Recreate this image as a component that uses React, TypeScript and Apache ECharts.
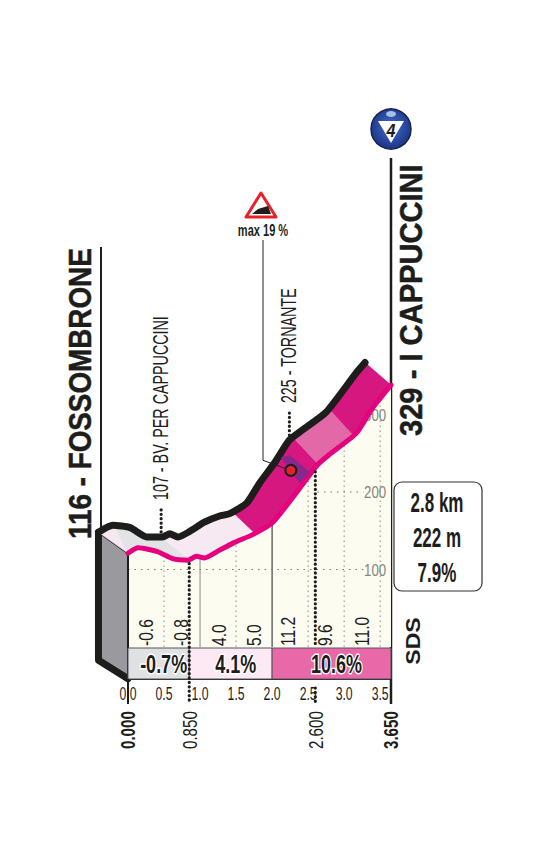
import React, { useEffect, useRef } from "react";
import * as echarts from "echarts";

const frontProfile: number[][] = [
  [0, 121], [0.14, 128], [0.41, 123], [0.62, 114], [0.83, 112], [0.95, 117], [1.06, 115],
  [1.27, 125], [1.48, 135], [1.73, 145], [2.0, 160], [2.28, 192], [2.63, 235], [2.79, 248],
  [3.17, 276], [3.39, 308], [3.65, 338],
];
const backProfile: number[][] = [
  [-0.41, 148], [-0.21, 157], [0.03, 154], [0.26, 142], [0.48, 142], [0.58, 146], [0.69, 142],
  [1.06, 161], [1.27, 169], [1.41, 172], [1.65, 186], [1.83, 212], [2.03, 237], [2.24, 267],
  [2.42, 280], [2.75, 303], [3.17, 354], [3.29, 367],
];
const ribbonParts: [number, number, number, number, string][] = [
  [0, 0, -0.41, -0.19, "#f5e8f0"],
  [0, 0.85, -0.19, 0.46, "#e1e3e5"],
  [0.85, 1.76, 0.46, 1.45, "#f7e9f2"],
  [1.76, 2.64, 1.45, 2.29, "#d6177f"],
  [2.64, 3.13, 2.29, 2.79, "#e268a8"],
  [3.13, 3.65, 2.79, 3.29, "#d6177f"],
];
const kmTicks = [0, 0.5, 1, 1.5, 2, 2.5, 3, 3.5];
const elevTicks = [100, 200, 300];
const gradeLabels: [number, string][] = [
  [0.25, "-0.6"], [0.74, "-0.8"], [1.27, "4.0"], [1.76, "5.0"], [2.23, "11.2"], [2.74, "9.6"], [3.25, "11.0"],
];
const tableBands: [number, number, string, string][] = [
  [0, 0.85, "-0.7%", "#dfe1e3"], [0.85, 2, "4.1%", "#fde9f4"], [2, 3.65, "10.6%", "#e868a8"],
];
const waypoints: [number, number, string][] = [
  [0.85, 0.46, "107 - BV. PER CAPPUCCINI"],
  [2.6, 2.24, "225 - TORNANTE"],
];
const kmLabels: [number, string][] = [[0, "0.000"], [0.85, "0.850"], [2.6, "2.600"], [3.65, "3.650"]];
const steepest: [number, number] = [2.26, 228];
const startName = "116 - FOSSOMBRONE";
const endName = "329 - I CAPPUCCINI";
const summary = ["2.8 km", "222 m", "7.9%"];

const FONT = '"Liberation Sans", sans-serif';
const INK = "#1d1d1b";

const at = (line: number[][], km: number) => {
  for (let i = 1; i < line.length; i++) {
    if (km <= line[i][0]) {
      const [x0, y0] = line[i - 1];
      const [x1, y1] = line[i];
      return y0 + ((y1 - y0) * (km - x0)) / (x1 - x0);
    }
  }
  return line[line.length - 1][1];
};
const slice = (line: number[][], a: number, b: number) =>
  a === b
    ? [[a, at(line, a)]]
    : [[a, at(line, a)], ...line.filter((p) => p[0] > a && p[0] < b), [b, at(line, b)]];

const txt = (text: string, x: number, y: number, size: number, scaleX: number, opts: any = {}) => ({
  type: "text", x, y, scaleX,
  rotation: opts.up ? Math.PI / 2 : 0,
  style: {
    text,
    fill: opts.fill || INK,
    font: `${opts.weight || ""} ${size}px ${FONT}`,
    align: opts.align || (opts.up ? "left" : "center"),
    verticalAlign: "middle",
    ...(opts.halo ? { stroke: "#fff", lineWidth: opts.halo } : {}),
    ...(opts.thick ? { stroke: opts.fill || INK, lineWidth: opts.thick } : {}),
  },
});

function option(): any {
  const px = 72.05;
  const perUnit = 0.775;
  const top = 647 - 700 * perUnit;
  const base = { type: "custom", xAxisIndex: 0, yAxisIndex: 0, clip: false, silent: true };
  const ribbon = {
    ...base, z: 4, data: ribbonParts.map((_, i) => i),
    renderItem: (p: any, api: any) => {
      const [a, b, c, d, color] = ribbonParts[api.value(0)];
      const f = slice(frontProfile, a, b);
      const bk = slice(backProfile, c, d).reverse();
      const points = [...f, ...bk].map((q) => api.coord(q));
      return { type: "polygon", shape: { points }, style: { fill: color, stroke: color, lineWidth: 0.5 } };
    },
  };
  const wall = {
    ...base, z: 3, data: [0],
    renderItem: (p: any, api: any) => {
      const c = (x: number, y: number) => api.coord([x, y]);
      const lb = -41, bb = -17;
      return {
        type: "group",
        children: [
          { type: "polygon", shape: { points: [c(-0.39, 148), c(0, 121), c(0, lb), c(-0.39, bb)] }, style: { fill: "#9a9a9e", stroke: "none" } },
          { type: "polyline", shape: { points: [c(-0.41, 148), c(-0.41, bb), c(0, lb)] }, style: { fill: "none", stroke: INK, lineWidth: 7, lineJoin: "round", lineCap: "round" } },
          { type: "polyline", shape: { points: [c(-0.41, 148), c(0, 121), c(0, lb)] }, style: { fill: "none", stroke: INK, lineWidth: 2 } },
        ],
      };
    },
  };
  const grid = {
    ...base, z: 2, data: [0],
    renderItem: (p: any, api: any) => {
      const c = (x: number, y: number) => api.coord([x, y]);
      const kids: any[] = [];
      kmTicks.filter((k) => k > 0).forEach((k) => {
        const solid = k === 1 || k === 2;
        const a = c(k, 0);
        const b = c(k, at(frontProfile, k));
        kids.push({
          type: "line",
          shape: { x1: a[0], y1: a[1], x2: b[0], y2: b[1] },
          style: { stroke: k === 2 ? "#444" : "#8a8a80", lineWidth: k === 2 ? 1.2 : 1, lineDash: solid ? undefined : [1.5, 3.5] },
        });
      });
      elevTicks.forEach((v) => {
        const start = frontProfile.find((q) => q[1] >= v);
        const x0 = v < 120 ? 0 : start ? start[0] : 0;
        const a = c(x0, v);
        const b = c(3.27, v);
        kids.push({
          type: "line",
          shape: { x1: a[0], y1: a[1], x2: b[0], y2: b[1] },
          style: { stroke: "#77776e", lineWidth: 1, lineDash: [1.5, 5] },
        });
        const l = c(3.43, v);
        kids.push(txt(String(v), l[0], l[1], 17, 0.78, { fill: "#85857e" }));
      });
      return { type: "group", children: kids };
    },
  };
  const marks = {
    ...base, z: 6, data: waypoints.map((_, i) => i),
    renderItem: (p: any, api: any) => {
      const [km, backKm, name] = waypoints[api.value(0)];
      const c = (x: number, y: number) => api.coord([x, y]);
      const dash = { stroke: INK, lineWidth: 3.2, lineDash: [0.1, 4.3], lineCap: "round", fill: "none" };
      const f = c(km, at(frontProfile, km));
      const b = c(backKm, at(backProfile, backKm));
      const runs = km > 2 ? [[f[1] + 4, 645], [688, 702]] : [[f[1] + 4, 702]];
      return {
        type: "group",
        children: [
          ...runs.map(([y1, y2]) => ({ type: "line", shape: { x1: f[0], y1, x2: f[0], y2 }, style: dash })),
          { type: "line", shape: { x1: b[0], y1: b[1] - 5, x2: b[0], y2: b[1] - 30 }, style: dash },
          txt(name, b[0] - 1, b[1] - 37, 22, 0.65, { up: true }),
        ],
      };
    },
  };
  const grades = {
    ...base, z: 6, data: gradeLabels.map((_, i) => i),
    renderItem: (p: any, api: any) => {
      const [km, t] = gradeLabels[api.value(0)];
      const pt = api.coord([km, 0]);
      return txt(t, pt[0], pt[1] - 1, 20, 0.78, { up: true });
    },
  };
  const dot = {
    ...base, z: 7, data: [steepest],
    renderItem: (p: any, api: any) => {
      const [cx, cy] = api.coord([api.value(0), api.value(1)]);
      return {
        type: "group",
        children: [
          { type: "polygon", shape: { points: [[cx - 10, cy - 13], [cx - 1, cy - 15], [cx + 19, cy + 2], [cx + 9, cy + 13]] }, style: { fill: "#7f2a8f", opacity: 0.9 } },
          { type: "polyline", shape: { points: [[263, 240], [263, cy - 10], [cx - 6, cy - 2]] }, style: { fill: "none", stroke: "#222", lineWidth: 1 } },
          { type: "circle", shape: { cx, cy, r: 5.5 }, style: { fill: "#e8202a", stroke: INK, lineWidth: 2 } },
        ],
      };
    },
  };
  const table = {
    type: "custom", xAxisIndex: 1, yAxisIndex: 1, z: 5, silent: true, data: tableBands.map((_, i) => i),
    renderItem: (p: any, api: any) => {
      const [a, b, , color] = tableBands[api.value(0)];
      const tl = api.coord([a, 1]);
      const br = api.coord([b, 0]);
      return { type: "rect", shape: { x: tl[0], y: tl[1], width: br[0] - tl[0], height: br[1] - tl[1] }, style: { fill: color, stroke: "#55555a", lineWidth: 1 } };
    },
  };
  const tableText = {
    type: "custom", xAxisIndex: 1, yAxisIndex: 1, z: 8, silent: true, data: tableBands.map((_, i) => i),
    renderItem: (p: any, api: any) => {
      const [a, b, t] = tableBands[api.value(0)];
      const tl = api.coord([a, 1]);
      const br = api.coord([b, 0]);
      return txt(t, (tl[0] + br[0]) / 2 + 5, (tl[1] + br[1]) / 2 + 1, 25, 0.72, { weight: "bold", halo: 3 });
    },
  };
  const tickText = {
    type: "custom", xAxisIndex: 1, yAxisIndex: 1, clip: false, z: 6, silent: true, data: kmTicks,
    renderItem: (p: any, api: any) => {
      const pt = api.coord([api.value(0), 0]);
      return txt(api.value(0).toFixed(1), pt[0], pt[1] + 15, 18, 0.68);
    },
  };
  const kmText = {
    type: "custom", xAxisIndex: 1, yAxisIndex: 1, clip: false, z: 6, silent: true, data: kmLabels.map((_, i) => i),
    renderItem: (p: any, api: any) => {
      const [km, t] = kmLabels[api.value(0)];
      const pt = api.coord([km, 0]);
      const strong = km === 0 || km === 3.65;
      return {
        type: "group",
        children: [
          txt(t, pt[0], 749, 21, 0.72, { up: true, weight: strong ? "bold" : "" }),
          ...(strong ? [{ type: "line", shape: { x1: pt[0], y1: pt[1], x2: pt[0], y2: 704 }, style: { stroke: INK, lineWidth: 2 } }] : []),
        ],
      };
    },
  };
  return {
    animation: false,
    backgroundColor: "#fff",
    grid: [
      { left: 128 - 0.5 * px, width: 4.15 * px, top, height: 700 * perUnit },
      { left: 128, width: 3.65 * px, top: 648, height: 31 },
    ],
    xAxis: [
      { type: "value", gridIndex: 0, min: -0.5, max: 3.65, interval: 0.5, show: false },
      {
        type: "value", gridIndex: 1, min: 0, max: 3.65, interval: 0.5,
        axisLine: { lineStyle: { color: INK, width: 2 } }, axisTick: { show: false }, splitLine: { show: false },
        axisLabel: { show: false },
      },
    ],
    yAxis: [
      { type: "value", gridIndex: 0, min: 0, max: 700, interval: 100, show: false },
      { type: "value", gridIndex: 1, min: 0, max: 1, show: false },
    ],
    series: [
      {
        type: "line", name: "front-fill", xAxisIndex: 0, yAxisIndex: 0, data: frontProfile, symbol: "none", z: 1,
        lineStyle: { width: 0 }, areaStyle: { color: "#fcfcf1", opacity: 1, origin: "start" }, silent: true,
      },
      grid, wall, ribbon,
      {
        type: "line", name: "front", xAxisIndex: 0, yAxisIndex: 0, data: frontProfile, symbol: "none", z: 5, clip: false, smooth: 0.2,
        lineStyle: { color: "#e6007e", width: 5, cap: "round", join: "round" }, silent: true,
      },
      {
        type: "line", name: "ridge", xAxisIndex: 0, yAxisIndex: 0, data: backProfile, symbol: "none", z: 5, clip: false, smooth: 0.2,
        lineStyle: { color: INK, width: 7, cap: "round", join: "round" }, silent: true,
      },
      table, marks, grades, dot, tickText, kmText, tableText,
    ],
    graphic: [
      { type: "line", shape: { x1: 101, y1: 247, x2: 101, y2: 530 }, style: { stroke: INK, lineWidth: 2 } },
      { type: "line", shape: { x1: 391, y1: 158, x2: 391, y2: 704 }, style: { stroke: INK, lineWidth: 2.5 } },
      txt(startName, 80, 539, 32, 0.87, { up: true, weight: "bold", thick: 0.5 }),
      txt(endName, 410, 436, 32, 0.91, { up: true, weight: "bold", thick: 0.5 }),
      { type: "rect", shape: { x: 394, y: 482, width: 88, height: 109, r: 8 }, style: { fill: "#fff", stroke: "#333", lineWidth: 1.2 } },
      ...summary.map((t, i) => txt(t, 437, 503 + i * 35, 27, 0.63, { weight: "bold" })),
      txt("SDS", 413, 641, 20, 1.15, { up: true, weight: "bold", align: "center" }),
      { type: "polygon", shape: { points: [[261, 193], [246, 217], [276, 217]] }, style: { fill: "#fff", stroke: "#e8202a", lineWidth: 3, lineJoin: "round" } },
      { type: "polygon", shape: { points: [[252, 214], [258, 209], [268, 206], [271, 214]] }, style: { fill: INK } },
      txt("max 19 %", 263, 230, 17, 0.65, { weight: "bold" }),
      {
        type: "circle", shape: { cx: 391, cy: 129, r: 20 },
        style: {
          fill: new echarts.graphic.RadialGradient(0.5, 0.45, 0.6, [{ offset: 0, color: "#3f6fc8" }, { offset: 1, color: "#1a2f80" }]),
          stroke: "#15234f", lineWidth: 1.5,
        },
      },
      { type: "ellipse", shape: { cx: 391, cy: 114, rx: 5, ry: 3 }, style: { fill: "#a8c0e8" } },
      { type: "polygon", shape: { points: [[378, 121], [404, 121], [391, 143]] }, style: { fill: "#fff" } },
      txt("4", 391, 131, 19, 0.85, { weight: "italic bold" }),
    ],
  };
}

export default function App() {
  const ref = useRef<HTMLDivElement>(null);
  useEffect(() => {
    document.body.style.margin = "0";
    const chart = echarts.init(ref.current!, null, { renderer: "svg" });
    chart.setOption(option());
    return () => chart.dispose();
  }, []);
  return <div ref={ref} style={{ width: 539, height: 852 }} />;
}
